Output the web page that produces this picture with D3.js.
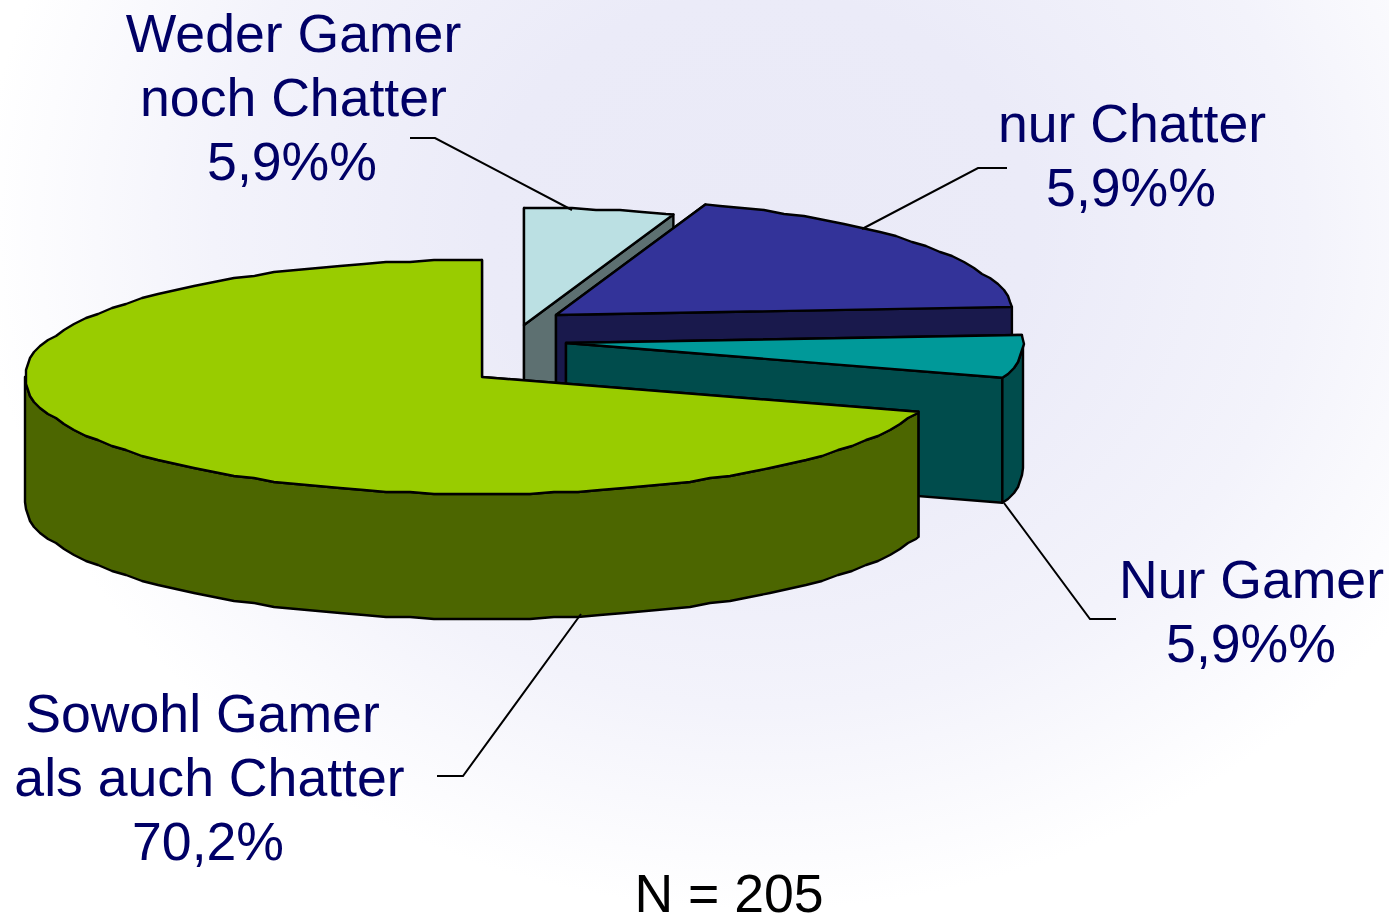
<!DOCTYPE html>
<html><head><meta charset="utf-8">
<script src="https://cdn.jsdelivr.net/npm/d3@7/dist/d3.min.js"></script>
<style>html,body{margin:0;padding:0;background:#fff;overflow:hidden}svg{display:block}</style>
</head><body><svg id="c" width="1389" height="917"></svg>
<script>
const categories = ["Weder Gamer noch Chatter","nur Chatter","Nur Gamer","Sowohl Gamer als auch Chatter"];
const values = [5.3, 18.6, 5.9, 70.2];
const labelLines = [["Weder Gamer","noch Chatter","5,9%%"],["nur Chatter","5,9%%"],["Nur Gamer","5,9%%"],["Sowohl Gamer","als auch Chatter","70,2%"]];
const topColors = ["#BBE0E3","#333399","#009999","#99CC00"];
const sideColors = ["#5D7071","#19194C","#004C4C","#4C6600"];
const note = "N = 205";

const W = 1389, H = 917;
const svg = d3.select("#c");
const RX = 457, RY = 117, DEPTH = 125;
const apex = [[524,325],[556,315],[566,343],[482,377]];
const textColor = "#000066";

const defs = svg.append("defs");
const g = defs.append("radialGradient").attr("id","bg").attr("gradientUnits","userSpaceOnUse")
  .attr("cx",0).attr("cy",0).attr("r",1)
  .attr("gradientTransform","translate(760,230) scale(780,680)");
[[0,"#EAEAF7"],[0.35,"#EBEBF8"],[0.7,"#F3F3FB"],[1,"#FFFFFF"]].forEach(s=>g.append("stop").attr("offset",s[0]).attr("stop-color",s[1]));
svg.append("rect").attr("width",W).attr("height",H).attr("fill","url(#bg)");

const arcs = d3.pie().sort(null).value(d=>d).startAngle(0).endAngle(2*Math.PI)(values);
const STEP = 3*Math.PI/180, GRID = 2;
const snap = v => Math.round(v/GRID)*GRID;
const line = d3.line();
function samples(a0,a1){
  const inner=[];
  for(let k=Math.floor(a0/STEP)+1;k*STEP<a1-1e-6;k++) inner.push(k*STEP);
  return [a0,...inner,a1];
}

arcs.forEach((d,i)=>{
  const [cx,cy]=apex[i];
  const sx=d3.scaleLinear().domain([-1,1]).range([cx-RX,cx+RX]);
  const sy=d3.scaleLinear().domain([-1,1]).range([cy-RY,cy+RY]);
  const pt=(a,dz=0)=>[sx(Math.sin(a)),sy(-Math.cos(a))+dz];
  const arcPts=(a0,a1,dz=0)=>{
    const s=samples(a0,a1);
    return s.map((a,k)=>{const p=pt(a);return (k==0||k==s.length-1)?[p[0],p[1]+dz]:[snap(p[0]),snap(p[1])+dz];});
  };
  const G=svg.append("g").attr("stroke","#000").attr("stroke-width",2.4).attr("stroke-linejoin","round");
  [d.startAngle,d.endAngle].forEach(a=>{
    const p=pt(a);
    G.append("path").attr("fill",sideColors[i]).attr("d",line([[cx,cy],p,[p[0],p[1]+DEPTH],[cx,cy+DEPTH]])+"Z");
  });
  const v0=Math.max(d.startAngle,Math.PI/2), v1=Math.min(d.endAngle,3*Math.PI/2);
  if(v1>v0){
    G.append("path").attr("fill",sideColors[i]).attr("d",line(arcPts(v0,v1).concat(arcPts(v0,v1,DEPTH).reverse()))+"Z");
  }
  G.append("path").attr("fill",topColors[i]).attr("d",line([[cx,cy]].concat(arcPts(d.startAngle,d.endAngle)))+"Z");
});

const leaders=[[[410,138],[435,138],[572,210]],[[1007,168],[978,168],[862,229]],[[1116,619],[1090,619],[1004,503]],[[437,776],[463,776],[581,614]]];
leaders.forEach(l=>svg.append("path").attr("d",line(l)).attr("fill","none").attr("stroke","#000").attr("stroke-width",2));

const labelX=[[293.5,293.5,292],[1132,1131],[1251.5,1251],[202.5,209.5,208]];
const labelY=[[52,116,180],[142,206],[598,662],[732,796,860]];
labelLines.forEach((ls,i)=>ls.forEach((t,k)=>{
  svg.append("text").attr("x",labelX[i][k]).attr("y",labelY[i][k]).attr("text-anchor","middle")
    .attr("font-family","'Liberation Sans',Arial,sans-serif").attr("font-size",53.6).attr("fill",textColor).text(t);
}));
svg.append("text").attr("x",729).attr("y",912).attr("text-anchor","middle")
  .attr("font-family","'Liberation Sans',Arial,sans-serif").attr("font-size",53.6).attr("fill","#000").text(note);
</script></body></html>
